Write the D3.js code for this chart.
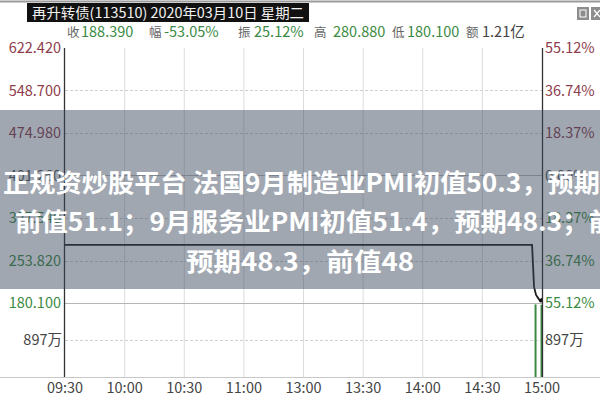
<!DOCTYPE html>
<html><head><meta charset="utf-8">
<script src="https://cdn.jsdelivr.net/npm/d3@7"></script>
<style>
html,body{margin:0;padding:0;background:#fff;}
svg{display:block;}
text{font-family:"Noto Sans CJK SC","Noto Sans",sans-serif;}
</style></head>
<body>
<svg id="chart" width="600" height="400"></svg>
<script>
// ---------- data ----------
const title = "再升转债(113510) 2020年03月10日 星期二";
const infoLabels = ["收", "幅", "振", "高", "低", "额"];
const infoValues = ["188.390", "-53.05%", "25.12%", "280.880", "180.100", "1.21亿"];
const priceTicks = [622.420, 548.700, 474.980, 401.260, 327.540, 253.820, 180.100];
const pctTicks = ["55.12%", "36.74%", "18.37%", "0.00%", "18.37%", "36.74%", "55.12%"];
const timeLabels = ["09:30", "10:00", "10:30", "11:00", "13:00", "13:30", "14:00", "14:30", "15:00"];
const timeIdx = [0, 30, 60, 90, 120, 150, 180, 210, 240];
const priceIdx = [0, 235, 236, 237, 238, 239, 240];
const priceVals = [280.88, 280.88, 208, 194, 189, 184, 188.39];
const volIdx = [237, 240];
const volVals = [1760, 1750];
const volMax = 1794;
const volLabel = "897万";
const overlayLines = [
  "正规资炒股平台 法国9月制造业PMI初值50.3，预期",
  "前值51.1；9月服务业PMI初值51.4，预期48.3；前",
  "预期48.3，前值48"
];

// ---------- layout ----------
const svg = d3.select("#chart");
const L = 65, R = 542, T = 48, PB = 303, VB = 377;
const x = d3.scaleLinear().domain([0, 240]).range([L, R]);
const y = d3.scaleLinear().domain([180.100, 622.420]).range([PB, T]);
const yv = d3.scaleLinear().domain([0, volMax]).range([VB, PB]);

const red = "#8e3b4b", green = "#3b8a43", grid = "#dcdcdc";
const FS = 14.5;

// top gray line
svg.append("line").attr("x1", 0).attr("x2", 600).attr("y1", 1.5).attr("y2", 1.5)
  .attr("stroke", "#9a9a9a").attr("stroke-width", 2);
// title box
svg.append("rect").attr("x", 27).attr("y", 3).attr("width", 282).attr("height", 19).attr("fill", "#111");
svg.append("text").attr("x", 32).attr("y", 17.5).attr("fill", "#f2f2f2")
  .attr("font-size", 14).attr("textLength", 272).attr("lengthAdjust", "spacingAndGlyphs").text(title);
// window icons
svg.append("rect").attr("x", 577).attr("y", 7).attr("width", 12).attr("height", 13).attr("fill", "#8d8d8d");
svg.append("rect").attr("x", 580).attr("y", 10).attr("width", 6).attr("height", 7).attr("fill", "none").attr("stroke", "#fff").attr("stroke-width", 1);
svg.append("rect").attr("x", 591).attr("y", 7).attr("width", 12).attr("height", 13).attr("fill", "#8d8d8d");
svg.append("path").attr("d", "M594,10L600,17M600,10L594,17").attr("stroke", "#fff").attr("stroke-width", 1.2);

// info line
const labPos = [67, 149, 238, 314, 392, 466];
const valPos = [81, 164, 254, 333, 407, 482];
const info = svg.append("g");
infoLabels.forEach((lab, i) => {
  info.append("text").attr("x", labPos[i]).attr("y", 37).attr("font-size", 12.5).attr("fill", "#666").text(lab);
  info.append("text").attr("x", valPos[i]).attr("y", 37).attr("font-size", FS).attr("fill", i === 5 ? "#444" : green).text(infoValues[i]);
});

// vertical grid
svg.append("g").selectAll("line").data(timeIdx.slice(1, -1)).join("line")
  .attr("x1", d => x(d)).attr("x2", d => x(d)).attr("y1", T).attr("y2", VB)
  .attr("stroke", grid).attr("stroke-width", 1);
// horizontal grid (dashed)
svg.append("g").selectAll("line").data(priceTicks.slice(1, -1)).join("line")
  .attr("x1", L).attr("x2", R).attr("y1", d => Math.round(y(d)) + 0.5).attr("y2", d => Math.round(y(d)) + 0.5)
  .attr("stroke", (d, i) => i === 2 ? "#bbb" : "#d0d0d0").attr("stroke-dasharray", (d, i) => i === 2 ? null : "3,2");
// volume mid dashed
svg.append("line").attr("x1", L).attr("x2", R).attr("y1", Math.round(yv(volMax / 2)) + 0.5).attr("y2", Math.round(yv(volMax / 2)) + 0.5)
  .attr("stroke", "#d0d0d0").attr("stroke-dasharray", "3,2");
// price/volume divider
svg.append("line").attr("x1", L).attr("x2", R).attr("y1", PB + 0.5).attr("y2", PB + 0.5).attr("stroke", "#b5b5b5");
// bottom line
svg.append("line").attr("x1", 0).attr("x2", 600).attr("y1", VB + 0.5).attr("y2", VB + 0.5).attr("stroke", "#c8c8c8");

// left price labels
svg.append("g").selectAll("text").data(priceTicks).join("text")
  .attr("x", 61).attr("y", d => y(d)).attr("dy", "0.36em").attr("text-anchor", "end")
  .attr("font-size", FS).attr("fill", (d, i) => i < 3 ? red : (i === 3 ? "#555" : green))
  .text(d => d.toFixed(3));
// right pct labels
svg.append("g").selectAll("text").data(pctTicks).join("text")
  .attr("x", 545).attr("y", (d, i) => y(priceTicks[i])).attr("dy", "0.36em")
  .attr("font-size", FS).attr("fill", (d, i) => i < 3 ? red : (i === 3 ? "#555" : green))
  .text(d => d);
// volume labels
svg.append("text").attr("x", 62).attr("y", yv(volMax / 2)).attr("dy", "0.36em").attr("text-anchor", "end")
  .attr("font-size", FS).attr("fill", "#444").text(volLabel);
svg.append("text").attr("x", 545).attr("y", yv(volMax / 2)).attr("dy", "0.36em")
  .attr("font-size", FS).attr("fill", "#444").text(volLabel);

// time labels
svg.append("g").selectAll("text").data(timeIdx).join("text")
  .attr("x", d => x(d)).attr("y", 393).attr("text-anchor", "middle")
  .attr("font-size", 14.5).attr("fill", "#444").text((d, i) => timeLabels[i]);

// volume bars
svg.append("g").selectAll("rect").data(volIdx).join("rect")
  .attr("x", d => x(d) - 1.5).attr("width", 2).attr("y", (d, i) => yv(volVals[i]))
  .attr("height", (d, i) => VB - yv(volVals[i])).attr("fill", green);

// price line
const pts = priceIdx.map((d, i) => [d, priceVals[i]]);
svg.append("path").datum(pts)
  .attr("d", d3.line().x(d => x(d[0])).y(d => y(d[1])))
  .attr("fill", "none").attr("stroke", "#1e1e1e").attr("stroke-width", 1.8);
svg.append("circle").attr("cx", x(239.5)).attr("cy", y(184)).attr("r", 1.8).attr("fill", "#111");

// axis lines
svg.append("line").attr("x1", L - 0.5).attr("x2", L - 0.5).attr("y1", T).attr("y2", VB).attr("stroke", "#333").attr("stroke-width", 1.3);
svg.append("line").attr("x1", R + 0.5).attr("x2", R + 0.5).attr("y1", T).attr("y2", VB).attr("stroke", "#333").attr("stroke-width", 1.3);

// overlay band
svg.append("rect").attr("x", 0).attr("y", 110).attr("width", 600).attr("height", 179)
  .attr("fill", "rgb(57,72,92)").attr("fill-opacity", 0.48);
const ov = svg.append("g").attr("font-size", 25).attr("font-weight", "bold").attr("fill", "#fff");
ov.append("text").attr("x", 3).attr("y", 192).attr("textLength", 597).attr("lengthAdjust", "spacingAndGlyphs").text(overlayLines[0]);
ov.append("text").attr("x", 15).attr("y", 231).attr("textLength", 600).attr("lengthAdjust", "spacingAndGlyphs").text(overlayLines[1]);
ov.append("text").attr("x", 186).attr("y", 271).attr("textLength", 228).attr("lengthAdjust", "spacingAndGlyphs").text(overlayLines[2]);
</script>
</body></html>
